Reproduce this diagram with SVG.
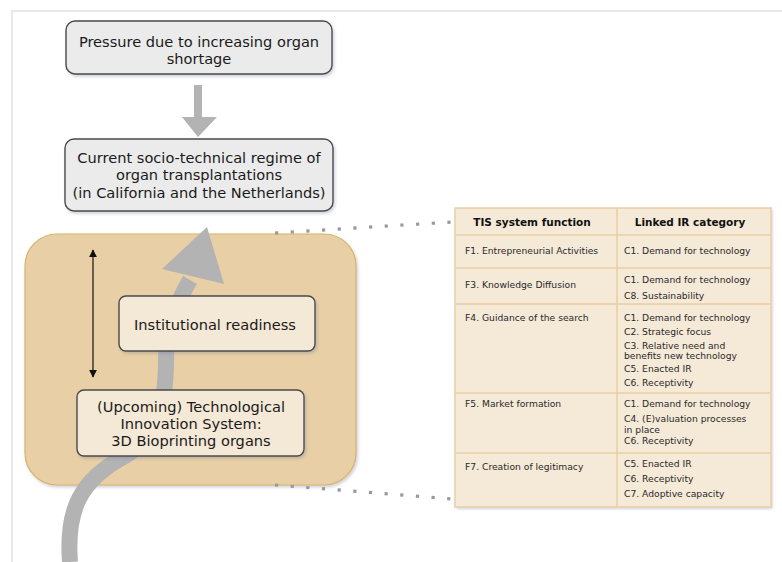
<svg xmlns="http://www.w3.org/2000/svg" width="782" height="562" viewBox="0 0 782 562">
  <defs>
    <filter id="shadow" x="-10%" y="-10%" width="130%" height="130%">
      <feDropShadow dx="1.5" dy="2" stdDeviation="1.5" flood-color="#7a7f99" flood-opacity="0.35"/>
    </filter>
    <marker id="tip" viewBox="0 0 10 10" refX="9" refY="5" markerWidth="8" markerHeight="8" markerUnits="userSpaceOnUse" orient="auto-start-reverse">
      <path d="M0,0 L10,5 L0,10 z" fill="#111"/>
    </marker>
  </defs>
  <style>
    .box { stroke: #4a4a4a; stroke-width: 1.4; }
    .gray { fill: #ebebeb; }
    .cream { fill: #f4e8d6; }
    .lbl { font-family: "DejaVu Sans", Verdana, sans-serif; font-size: 14.6px; fill: #1a1a1a; text-anchor: middle; }
    .cell { font-family: "DejaVu Sans", Verdana, sans-serif; font-size: 9.2px; fill: #2a2a2a; }
    .head { font-family: "DejaVu Sans", Verdana, sans-serif; font-size: 10.5px; font-weight: bold; fill: #111; text-anchor: middle; }
    .grid { stroke: #e8cfa4; stroke-width: 1.5; fill: none; }
    .dots { stroke: #999999; stroke-width: 3.2; stroke-dasharray: 3.2 12.5; fill: none; }
  </style>

  <rect width="782" height="562" fill="#ffffff"/>
  <!-- page frame -->
  <path d="M12,562 V11 H782" fill="none" stroke="#e2e2e2" stroke-width="1.5"/>

  <!-- TIS container -->
  <g id="tis-container">
    <rect x="25" y="234" width="331" height="251" rx="32" fill="#e8cfa5" stroke="#d6b566" stroke-width="1.2" filter="url(#shadow)"/>
  </g>

  <g id="connectors">
    <!-- pressure arrow -->
    <polygon points="194,85 202,85 202,117 217,117 198,137 182,117 194,117" fill="#b3b3b3"/>
    <!-- development path of the TIS -->
    <path d="M70,562 C66,510 80,480 125,456 C160,436 166,400 166,360 C166,330 178,300 190,280" fill="none" stroke="#b3b3b3" stroke-width="16"/>
    <polygon points="162,269 224,284 207,227" fill="#b3b3b3"/>
    <!-- two-way interaction -->
    <line x1="93" y1="250" x2="93" y2="377" stroke="#111" stroke-width="1.2" marker-start="url(#tip)" marker-end="url(#tip)"/>
    <!-- zoom-out lines to the table -->
    <path class="dots" d="M275,233 L452,222"/>
    <path class="dots" d="M275,485 L452,499"/>
  </g>

  <g id="pressure">
    <rect class="box gray" x="66" y="21" width="266" height="53" rx="9" filter="url(#shadow)"/>
    <text class="lbl" x="199" y="47">Pressure due to increasing organ</text>
    <text class="lbl" x="199" y="64">shortage</text>
  </g>

  <g id="regime">
    <rect class="box gray" x="65" y="139" width="268" height="72" rx="9" filter="url(#shadow)"/>
    <text class="lbl" x="199" y="163">Current socio-technical regime of</text>
    <text class="lbl" x="199" y="180">organ transplantations</text>
    <text class="lbl" x="199" y="198">(in California and the Netherlands)</text>
  </g>

  <g id="institutional-readiness">
    <rect class="box cream" x="119" y="296" width="196" height="55" rx="7" filter="url(#shadow)"/>
    <text class="lbl" x="215" y="330">Institutional readiness</text>
  </g>

  <g id="tis">
    <rect class="box cream" x="77" y="390" width="227" height="66" rx="7" filter="url(#shadow)"/>
    <text class="lbl" x="191" y="412">(Upcoming) Technological</text>
    <text class="lbl" x="191" y="429">Innovation System:</text>
    <text class="lbl" x="191" y="446">3D Bioprinting organs</text>
  </g>

  <g id="function-table">
    <rect x="455" y="208" width="316" height="299" fill="#f5e9d8" filter="url(#shadow)"/>
    <rect class="grid" x="455" y="208" width="316" height="299"/>
    <path class="grid" d="M617,208 V507 M455,235 H771 M455,268 H771 M455,304 H771 M455,393 H771 M455,453 H771"/>

    <text class="head" x="532" y="226">TIS system function</text>
    <text class="head" x="690" y="226">Linked IR category</text>

    <text class="cell" x="465" y="254">F1. Entrepreneurial Activities</text>
    <text class="cell" x="624" y="254">C1. Demand for technology</text>

    <text class="cell" x="465" y="288">F3. Knowledge Diffusion</text>
    <text class="cell" x="624" y="283">C1. Demand for technology</text>
    <text class="cell" x="624" y="299">C8. Sustainability</text>

    <text class="cell" x="465" y="321">F4. Guidance of the search</text>
    <text class="cell" x="624" y="321">C1. Demand for technology</text>
    <text class="cell" x="624" y="335">C2. Strategic focus</text>
    <text class="cell" x="624" y="349">C3. Relative need and</text>
    <text class="cell" x="624" y="359">benefits new technology</text>
    <text class="cell" x="624" y="372">C5. Enacted IR</text>
    <text class="cell" x="624" y="386">C6. Receptivity</text>

    <text class="cell" x="465" y="407">F5. Market formation</text>
    <text class="cell" x="624" y="407">C1. Demand for technology</text>
    <text class="cell" x="624" y="422">C4. (E)valuation processes</text>
    <text class="cell" x="624" y="433">in place</text>
    <text class="cell" x="624" y="444">C6. Receptivity</text>

    <text class="cell" x="465" y="470">F7. Creation of legitimacy</text>
    <text class="cell" x="624" y="467">C5. Enacted IR</text>
    <text class="cell" x="624" y="482">C6. Receptivity</text>
    <text class="cell" x="624" y="497">C7. Adoptive capacity</text>
  </g>
</svg>
